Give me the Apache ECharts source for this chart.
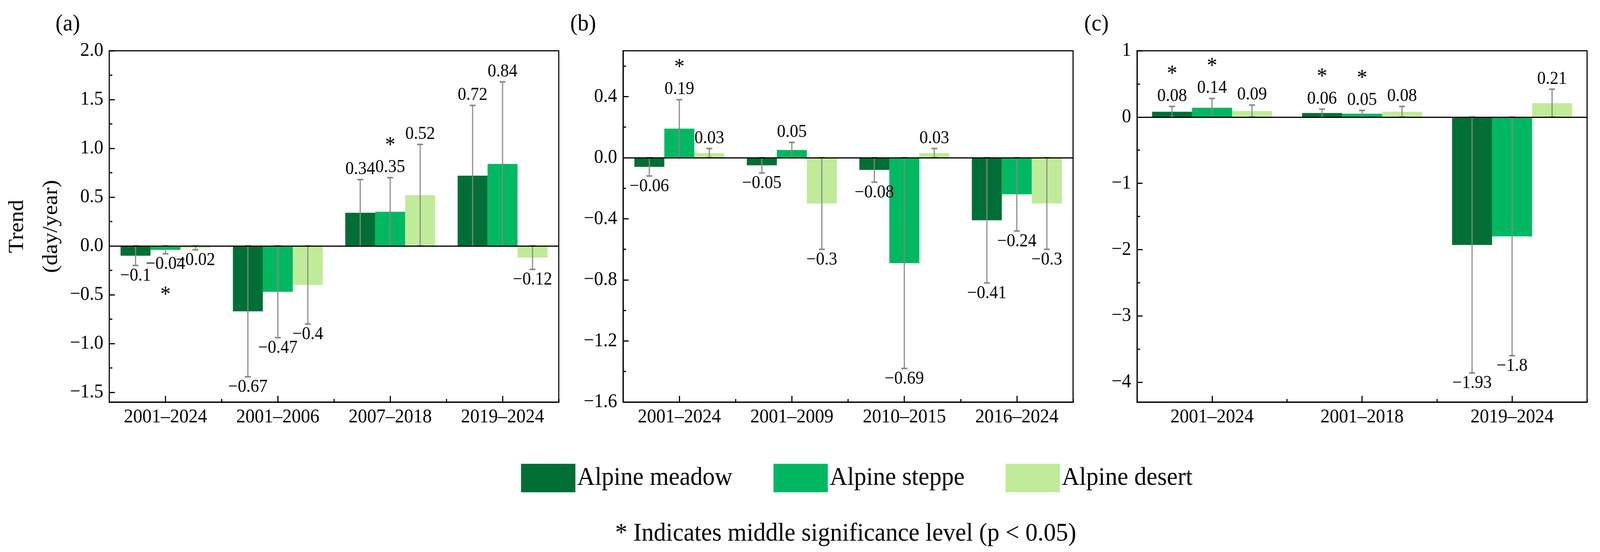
<!DOCTYPE html>
<html>
<head>
<meta charset="utf-8">
<script src="https://cdn.jsdelivr.net/npm/echarts@6/dist/echarts.min.js"></script>
<style>html,body{margin:0;padding:0;background:#fff;overflow:hidden;}#c{width:4327px;height:1414px;transform-origin:0 0;}</style>
</head>
<body>
<div id="c"></div>
<script>
// ---- Data ----
const seriesNames = ['Alpine meadow', 'Alpine steppe', 'Alpine desert'];
const colors = ['#006f35', '#00b862', '#c0eb98'];

// Panel (a)
const catsA = ['2001–2024', '2001–2006', '2007–2018', '2019–2024'];
const meadowA = [-0.1, -0.67, 0.34, 0.72];
const steppeA = [-0.04, -0.47, 0.35, 0.84];
const desertA = [-0.02, -0.4, 0.52, -0.12];
const errMeadowA = [0.1, 0.67, 0.34, 0.72];
const errSteppeA = [0.04, 0.47, 0.35, 0.84];
const errDesertA = [0.02, 0.4, 0.52, 0.12];
const sigMeadowA = [0, 0, 0, 0];
const sigSteppeA = [1, 0, 1, 0];
const sigDesertA = [0, 0, 0, 0];
const ticksA = [-1.5, -1, -0.5, 0, 0.5, 1, 1.5, 2];
const tickLabelsA = ['−1.5', '−1.0', '−0.5', '0.0', '0.5', '1.0', '1.5', '2.0'];
const minorA = [-1.25, -0.75, -0.25, 0.25, 0.75, 1.25, 1.75];
const rangeA = [-1.6, 2.0];

// Panel (b)
const catsB = ['2001–2024', '2001–2009', '2010–2015', '2016–2024'];
const meadowB = [-0.06, -0.05, -0.08, -0.41];
const steppeB = [0.19, 0.05, -0.69, -0.24];
const desertB = [0.03, -0.3, 0.03, -0.3];
const errMeadowB = [0.06, 0.05, 0.08, 0.41];
const errSteppeB = [0.19, 0.05, 0.69, 0.24];
const errDesertB = [0.03, 0.3, 0.03, 0.3];
const sigMeadowB = [0, 0, 0, 0];
const sigSteppeB = [1, 0, 0, 0];
const sigDesertB = [0, 0, 0, 0];
const ticksB = [-1.6, -1.2, -0.8, -0.4, 0, 0.4];
const tickLabelsB = ['−1.6', '−1.2', '−0.8', '−0.4', '0.0', '0.4'];
const minorB = [-1.4, -1.0, -0.6, -0.2, 0.2, 0.6];
const rangeB = [-1.6, 0.7];

// Panel (c)
const catsC = ['2001–2024', '2001–2018', '2019–2024'];
const meadowC = [0.08, 0.06, -1.93];
const steppeC = [0.14, 0.05, -1.8];
const desertC = [0.09, 0.08, 0.21];
const errMeadowC = [0.08, 0.06, 1.93];
const errSteppeC = [0.14, 0.05, 1.8];
const errDesertC = [0.09, 0.08, 0.21];
const sigMeadowC = [1, 1, 0];
const sigSteppeC = [1, 1, 0];
const sigDesertC = [0, 0, 0];
const ticksC = [-4, -3, -2, -1, 0, 1];
const tickLabelsC = ['−4', '−3', '−2', '−1', '0', '1'];
const minorC = [-3.5, -2.5, -1.5, -0.5, 0.5];
const rangeC = [-4.3, 1];

const footnote = '* Indicates middle significance level (p < 0.05)';

// Fit the 4327x1414 design into the actual viewport
(function () {
  const el = document.getElementById('c');
  const sx = Math.min(1, window.innerWidth / 4327);
  const sy = Math.min(1, window.innerHeight / 1414);
  el.style.transform = 'scale(' + sx + ',' + sy + ')';
})();

// ---- Build ----
const FONT = 'Liberation Serif';
const panels = [
  { cats: catsA, vals: [meadowA, steppeA, desertA], errs: [errMeadowA, errSteppeA, errDesertA], sigs: [sigMeadowA, sigSteppeA, sigDesertA], ticks: ticksA, tickLabels: tickLabelsA, minor: minorA, range: rangeA, left: 294, label: '(a)', labelX: 150 },
  { cats: catsB, vals: [meadowB, steppeB, desertB], errs: [errMeadowB, errSteppeB, errDesertB], sigs: [sigMeadowB, sigSteppeB, sigDesertB], ticks: ticksB, tickLabels: tickLabelsB, minor: minorB, range: rangeB, left: 1685, label: '(b)', labelX: 1542 },
  { cats: catsC, vals: [meadowC, steppeC, desertC], errs: [errMeadowC, errSteppeC, errDesertC], sigs: [sigMeadowC, sigSteppeC, sigDesertC], ticks: ticksC, tickLabels: tickLabelsC, minor: minorC, range: rangeC, left: 3075, label: '(c)', labelX: 2932 }
];

function fmt(v) { return (v < 0 ? '−' : '') + String(Math.abs(v)); }

function errRenderer(pos) {
  return function (params, api) {
    const ci = api.value(0), v = api.value(1), e = api.value(2), sig = api.value(3);
    const catW = api.size([1, 0])[0];
    const bw = catW * 0.8 / 3;
    const dx = (pos - 1) * bw;
    const lo = api.coord([ci, v - e]);
    const hi = api.coord([ci, v + e]);
    const x = lo[0] + dx;
    const capW = 16;
    const stroke = { stroke: '#888888', lineWidth: 3 };
    const capStroke = { stroke: '#888888', lineWidth: 4 };
    const children = [
      { type: 'line', shape: { x1: x, y1: lo[1], x2: x, y2: hi[1] }, style: stroke },
      { type: 'line', shape: { x1: x - capW / 2, y1: lo[1], x2: x + capW / 2, y2: lo[1] }, style: capStroke },
      { type: 'line', shape: { x1: x - capW / 2, y1: hi[1], x2: x + capW / 2, y2: hi[1] }, style: capStroke }
    ];
    const up = v >= 0;
    const endY = up ? hi[1] : lo[1];
    const ly = up ? endY - 26 : endY + 27;
    children.push({ type: 'text', style: { text: fmt(v), x: x, y: ly, align: 'center', verticalAlign: 'middle', fontSize: 46, fontFamily: FONT, fill: '#000' } });
    if (sig) {
      const sy = up ? ly - 68 : ly + 67;
      children.push({ type: 'text', style: { text: '*', x: x, y: sy + 13, align: 'center', verticalAlign: 'middle', fontSize: 56, fontFamily: FONT, fill: '#000' } });
    }
    return { type: 'group', children: children };
  };
}

const grids = [], xAxes = [], yAxes = [], series = [], titles = [];
panels.forEach(function (p, i) {
  grids.push({ left: p.left, top: 130, width: 1217, height: 900, show: true, borderColor: '#000', borderWidth: 3, backgroundColor: 'transparent', containLabel: false });
  titles.push({ text: p.label, left: p.labelX, top: 32, padding: 0, textStyle: { fontSize: 60, fontFamily: FONT, fontWeight: 'normal', color: '#000' } });
});
panels.forEach(function (p, i) {
  xAxes.push({
    type: 'category', gridIndex: i, data: p.cats, position: 'bottom',
    axisLine: { onZero: false, lineStyle: { color: '#000', width: 3 } },
    axisTick: { show: true, alignWithLabel: true, inside: true, length: 16, lineStyle: { color: '#000', width: 3 } },
    axisLabel: { fontSize: 50, fontFamily: FONT, color: '#000', margin: 14 },
    splitLine: { show: false }
  });
  yAxes.push({
    type: 'value', gridIndex: i, min: p.range[0], max: p.range[1],
    name: i === 0 ? 'Trend\n(day/year)' : '', nameLocation: 'middle', nameRotate: 90, nameGap: 92,
    nameTextStyle: { fontSize: 58, fontFamily: FONT, color: '#000', lineHeight: 92 },
    axisLine: { show: true, lineStyle: { color: '#000', width: 3 } },
    axisTick: { show: true, inside: true, length: 15, customValues: p.ticks, lineStyle: { color: '#000', width: 3 } },
    axisLabel: { fontSize: 50, fontFamily: FONT, color: '#000', margin: 16, customValues: p.ticks,
      formatter: (function (pp) { return function (val) { const k = pp.ticks.findIndex(function (t) { return Math.abs(t - val) < 1e-6; }); return k >= 0 ? pp.tickLabels[k] : ''; }; })(p) },
    splitLine: { show: false }
  });
});
panels.forEach(function (p, i) {
  xAxes.push({
    type: 'category', gridIndex: i, data: p.cats, position: 'bottom', boundaryGap: true,
    axisLine: { show: false, onZero: false },
    axisTick: { show: true, alignWithLabel: false, inside: true, length: 8, lineStyle: { color: '#000', width: 3 } },
    axisLabel: { show: false }, splitLine: { show: false }
  });
  yAxes.push({
    type: 'value', gridIndex: i, min: p.range[0], max: p.range[1], position: 'left',
    axisLine: { show: false },
    axisTick: { show: true, inside: true, length: 8, customValues: p.minor, lineStyle: { color: '#000', width: 3 } },
    axisLabel: { show: false }, splitLine: { show: false }
  });
});
panels.forEach(function (p, i) {
  for (let s = 0; s < 3; s++) {
    const bar = {
      type: 'bar', name: seriesNames[s], xAxisIndex: i, yAxisIndex: i,
      data: p.vals[s], barGap: '0%', barCategoryGap: '20%',
      itemStyle: { color: colors[s] }, z: 2, animation: false
    };
    if (s === 0) {
      bar.markLine = { silent: true, symbol: ['none', 'none'], label: { show: false }, animation: false,
        lineStyle: { color: '#000', width: 3, type: 'solid' }, data: [{ yAxis: 0 }] };
    }
    series.push(bar);
  }
  for (let s = 0; s < 3; s++) {
    series.push({
      type: 'custom', name: 'err' + i + s, xAxisIndex: i, yAxisIndex: i, z: 4, animation: false,
      renderItem: errRenderer(s),
      data: p.vals[s].map(function (v, k) { return [k, v, p.errs[s][k], p.sigs[s][k]]; }),
      encode: { x: 0, y: 1 }
    });
  }
});

const chart = echarts.init(document.getElementById('c'), null, { renderer: 'canvas', width: 4327, height: 1414 });
chart.setOption({
  backgroundColor: '#fff',
  animation: false,
  title: titles,
  grid: grids,
  xAxis: xAxes,
  yAxis: yAxes,
  legend: {
    data: seriesNames, left: 1409, top: 1188, padding: 0, icon: 'rect',
    itemWidth: 147, itemHeight: 73, itemGap: 111,
    textStyle: { fontSize: 66, fontFamily: FONT, color: '#000' }
  },
  graphic: [{ type: 'text', style: { text: footnote, x: 2287, y: 1368, align: 'center', verticalAlign: 'middle', fontSize: 66, fontFamily: FONT, fill: '#000' } }],
  series: series
});
</script>
</body>
</html>
